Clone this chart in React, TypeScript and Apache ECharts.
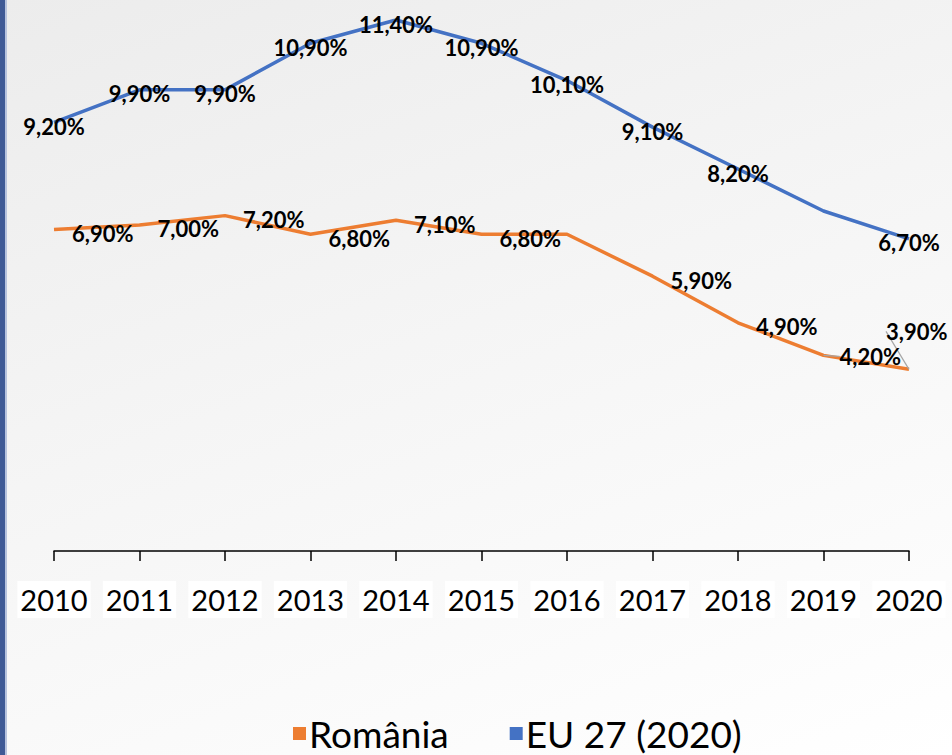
import React, { useEffect, useRef } from "react";
import * as echarts from "echarts";

const years = ["2010", "2011", "2012", "2013", "2014", "2015", "2016", "2017", "2018", "2019", "2020"];
const romania = [6.9, 7.0, 7.2, 6.8, 7.1, 6.8, 6.8, 5.9, 4.9, 4.2, 3.9];
const eu27 = [9.2, 9.9, 9.9, 10.9, 11.4, 10.9, 10.1, 9.1, 8.2, 7.3, 6.7];
const seriesNames = ["România", "EU 27 (2020)"];
const hiddenRoLabels = [6];
const hiddenEuLabels = [9];

const fmt = (v: number) => v.toFixed(2).replace(".", ",") + "%";

export default function App() {
  const ref = useRef<HTMLDivElement>(null);
  useEffect(() => {
    if (!ref.current) return;
    const chart = echarts.init(ref.current, null, { renderer: "svg" });
    const labelFont = { fontFamily: "Lato", fontWeight: "bold" as const, fontSize: 22, color: "#000" };
    const roData = romania.map((v, i) => {
      const item: any = { value: v };
      if (hiddenRoLabels.includes(i)) item.label = { show: false };
      if (i === 9 || i === 10) {
        item.labelLine = { show: true };
      }
      return item;
    });
    const euData = eu27.map((v, i) => {
      const item: any = { value: v };
      if (hiddenEuLabels.includes(i)) item.label = { show: false };
      return item;
    });
    chart.setOption({
      animation: false,
      backgroundColor: "transparent",
      grid: { left: 54, right: 43, top: 20, bottom: 204, containLabel: false },
      xAxis: {
        type: "category",
        data: years,
        boundaryGap: false,
        axisLine: { lineStyle: { color: "#000", width: 1.5 } },
        axisTick: { show: true, length: 10, lineStyle: { color: "#000", width: 1.5 } },
        axisLabel: {
          interval: 0,
          fontFamily: "Lato",
          fontSize: 29,
          color: "#000",
          margin: 30,
          backgroundColor: "#fff",
          padding: [4, 3, 4, 3],
        },
      },
      yAxis: { type: "value", min: 0, max: 11.4, show: false, splitLine: { show: false } },
      legend: {
        top: 710,
        left: 288,
        icon: "rect",
        itemWidth: 13,
        itemHeight: 13,
        itemGap: 61,
        textStyle: { fontFamily: "Lato", fontSize: 37, color: "#000", padding: [0, 0, 0, -2] },
        data: seriesNames,
      },
      series: [
        {
          name: seriesNames[0],
          type: "line",
          data: roData,
          symbol: "circle",
          symbolSize: 0,
          showSymbol: true,
          color: "#ED7D31",
          lineStyle: { width: 3.5, color: "#ED7D31" },
          label: {
            show: true,
            position: "right",
            distance: 18,
            formatter: (p: any) => fmt(p.value),
            ...labelFont,
          },
          labelLine: { show: false, lineStyle: { color: "#a6a6a6", width: 1.2 } },
          labelLayout: (p: any) => {
            if (p.dataIndex === 9) return { dx: -2, dy: 1 };
            if (p.dataIndex === 10) return { dx: -41, dy: -38 };
            return { dy: 4 };
          },
        },
        {
          name: seriesNames[1],
          type: "line",
          data: euData,
          symbol: "circle",
          symbolSize: 0,
          showSymbol: true,
          color: "#4472C4",
          lineStyle: { width: 3.5, color: "#4472C4" },
          label: {
            show: true,
            position: "inside",
            offset: [0, 4],
            formatter: (p: any) => fmt(p.value),
            ...labelFont,
          },
        },
      ],
    });
    return () => chart.dispose();
  }, []);
  return (
    <div
      style={{
        position: "fixed",
        left: 0,
        top: 0,
        width: 952,
        height: 755,
        background: "linear-gradient(160deg, #ececec 0%, #f5f5f5 45%, #ffffff 100%)",
      }}
    >
      <div style={{ position: "absolute", left: 0, top: 0, width: 5, height: 755, background: "#3F5A96" }} />
      <div style={{ position: "absolute", left: 5, top: 0, width: 2, height: 755, background: "#b7c3de" }} />
      <div ref={ref} style={{ position: "absolute", left: 0, top: 0, width: 952, height: 755 }} />
    </div>
  );
}
